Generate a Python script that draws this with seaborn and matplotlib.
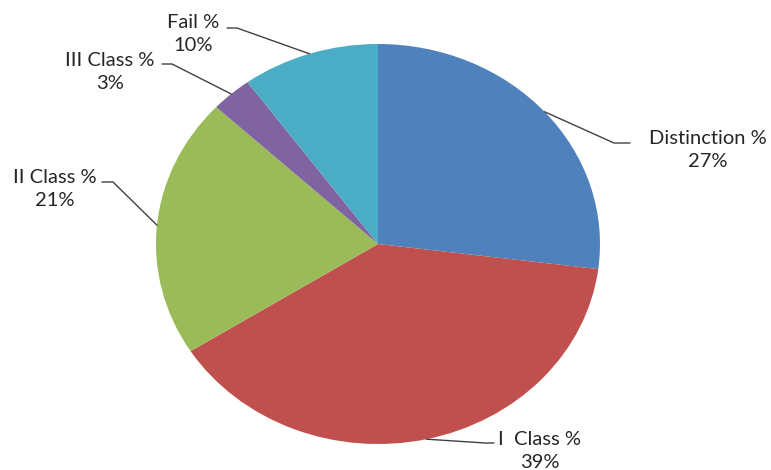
import matplotlib
matplotlib.use("Agg")
import matplotlib.pyplot as plt
import numpy as np
import seaborn as sns

sns.set_theme(style="white")
plt.rcParams['font.family'] = ['Lato', 'DejaVu Sans']

labels = ['Distinction %', 'I  Class %', 'II Class %', 'III Class %', 'Fail %']
values = [27, 39, 21, 3, 10]
colors = ['#4F81BD', '#C0504D', '#9BBB59', '#8064A2', '#4BACC6']

# layout: pixel positions of label text centres and leader elbows
W, H = 771, 470
cx, cy, rx, ry = 378, 244, 222, 200
text_pos = [(708, 150), (540, 451), (55, 189), (110, 72), (193, 34)]
elbow = [((630, 143), (614, 143)), ((494, 443), (485, 443)), ((102, 182), (113, 182)),
         ((162, 64), (172, 64)), ((227, 28), (237, 28))]


def to_data(p):
    return ((p[0] - cx) / rx, (cy - p[1]) / ry)


fig = plt.figure(figsize=(W / 100, H / 100), dpi=100)
ax = fig.add_axes([0, 0, 1, 1])
wedges, _ = ax.pie(values, colors=colors, startangle=90, counterclock=False,
                   wedgeprops=dict(linewidth=0))
ax.set_aspect('auto')
ax.set_xlim(-cx / rx, (W - cx) / rx)
ax.set_ylim((cy - H) / ry, cy / ry)
ax.axis('off')

total = sum(values)
for w, lab, v, tp, (e1, e2) in zip(wedges, labels, values, text_pos, elbow):
    ang = np.deg2rad((w.theta1 + w.theta2) / 2)
    px, py = np.cos(ang), np.sin(ang)
    a = to_data(e1)
    b = to_data(e2)
    ax.plot([a[0], b[0], px], [a[1], b[1], py], color='#404040', lw=1)
    t = to_data(tp)
    ax.text(t[0], t[1], f"{lab}\n{round(v / total * 100)}%", ha='center', va='center',
            fontsize=14.5, color='#262626', linespacing=1.45)

fig.savefig('out.png', dpi=100)
